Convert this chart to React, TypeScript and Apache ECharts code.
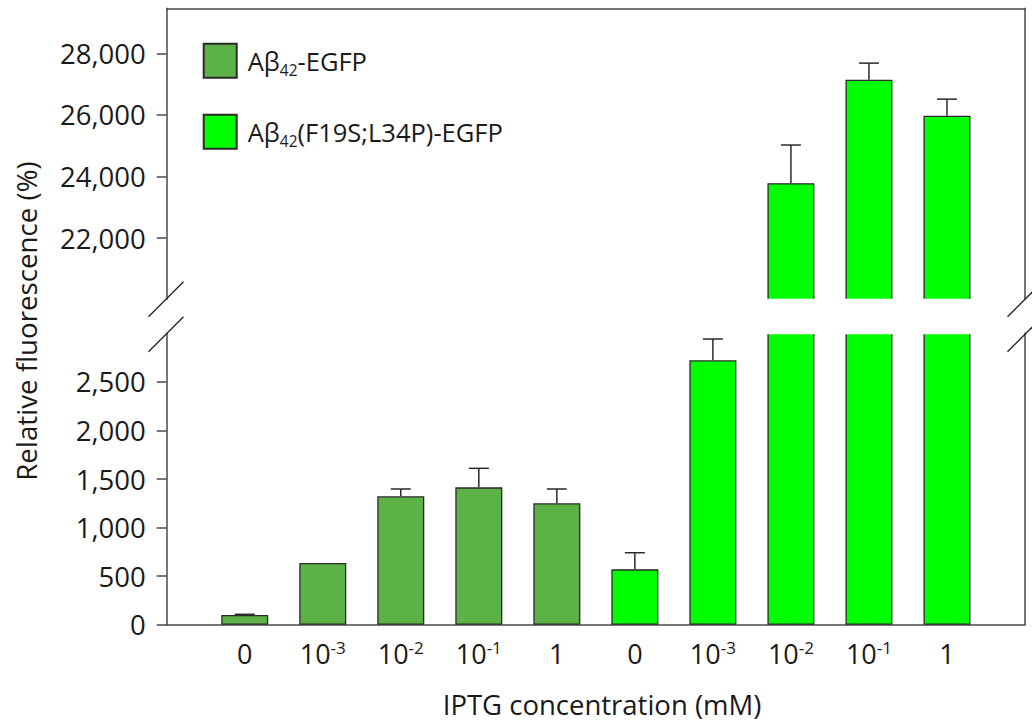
import React, { useEffect, useRef } from 'react';
import * as echarts from 'echarts';

// ---- data ----
const slots = ['', '0', '10^-3', '10^-2', '10^-1', '1', '0', '10^-3', '10^-2', '10^-1', '1', ''];
const wildName = 'Aβ42-EGFP';
const mutName = 'Aβ42(F19S;L34P)-EGFP';
const wildSlots = [1, 2, 3, 4, 5];
const wildValues = [100, 635, 1322, 1414, 1250];
const wildErrors = [7, 0, 75, 196, 147];
const mutSlots = [6, 7, 8, 9, 10];
const mutValues = [570, 2722, 23780, 27140, 25970];
const mutErrors = [171, 219, 1240, 540, 540];
const lowerTicks = [0, 500, 1000, 1500, 2000, 2500];
const upperTicks = [22000, 24000, 26000, 28000];
const lowerRange = [0, 3000];
const upperRange = [20000, 29460];

// ---- layout / style ----
const W = 1032;
const H = 724;
const L = 166.7;
const R = 1025;
const upTop = 8.3;
const upBottom = 299.6;
const loTop = 333.3;
const loBottom = 624.7;
const FONT = 'Open Sans';
const INK = '#1a1a1a';
const AXIS = '#4a4a4a';
const WILD_COLOR = '#5cb247';
const MUT_COLOR = '#00ff00';
const EDGE = '#2a2a2a';

const fmt = (v: number) => v.toLocaleString('en-US');

const seriesData = (slotIdx: number[], vals: number[], pred: (v: number) => boolean) =>
  slots.map((_, i) => {
    const k = slotIdx.indexOf(i);
    return k >= 0 && pred(vals[k]) ? vals[k] : '-';
  });

const errData = (pred: (v: number, e: number) => boolean) => {
  const out: number[][] = [];
  wildSlots.forEach((s, k) => {
    if (wildErrors[k] > 0 && pred(wildValues[k], wildErrors[k])) out.push([s, wildValues[k], wildErrors[k]]);
  });
  mutSlots.forEach((s, k) => {
    if (mutErrors[k] > 0 && pred(mutValues[k], mutErrors[k])) out.push([s, mutValues[k], mutErrors[k]]);
  });
  return out;
};

const renderErr = (params: any, api: any) => {
  const x = api.value(0);
  const v = api.value(1);
  const e = api.value(2);
  const p0 = api.coord([x, v]);
  const p1 = api.coord([x, v + e]);
  const style = { stroke: EDGE, lineWidth: 1.5, fill: null };
  return {
    type: 'group',
    children: [
      { type: 'line', shape: { x1: p0[0], y1: p0[1], x2: p1[0], y2: p1[1] }, style },
      { type: 'line', shape: { x1: p1[0] - 10, y1: p1[1], x2: p1[0] + 10, y2: p1[1] }, style },
    ],
  };
};

const barBase = (name: string, color: string) => ({
  type: 'bar',
  name,
  barWidth: 47,
  barGap: '-100%',
  itemStyle: { color, borderColor: EDGE, borderWidth: 1.3 },
  emphasis: { disabled: true },
});

const slash = (cx: number, cy: number) => ({
  type: 'line',
  z: 100,
  shape: { x1: cx - 17.5, y1: cy + 17.5, x2: cx + 17.5, y2: cy - 17.5 },
  style: { stroke: EDGE, lineWidth: 1.5 },
});

export default function App() {
  const ref = useRef<HTMLDivElement>(null);
  useEffect(() => {
    if (!ref.current) return;
    const chart = echarts.init(ref.current, null, { renderer: 'svg', width: W, height: H });
    const yLabel = {
      fontFamily: FONT,
      fontSize: 27.5,
      color: INK,
      margin: 21,
      formatter: (v: number) => fmt(v),
    };
    const option: any = {
      animation: false,
      backgroundColor: '#ffffff',
      grid: [
        { left: L, right: W - R, top: upTop, height: upBottom - upTop },
        { left: L, right: W - R, top: loTop, height: loBottom - loTop },
      ],
      legend: {
        data: [wildName, mutName],
        orient: 'vertical',
        left: 202.7,
        top: 42.7,
        padding: 0,
        itemWidth: 33,
        itemHeight: 34,
        itemGap: 35,
        icon: 'rect',
        selectedMode: false,
        formatter: (name: string) => name.replace('42', '{sub|42}'),
        textStyle: {
          fontFamily: FONT,
          fontSize: 25.5,
          color: INK,
          lineHeight: 34,
          padding: [0, 0, 0, 6],
          rich: {
            sub: { fontFamily: FONT, fontSize: 15.5, color: INK, verticalAlign: 'bottom', lineHeight: 10 },
          },
        },
      },
      xAxis: [
        {
          type: 'category',
          gridIndex: 0,
          data: slots,
          boundaryGap: false,
          position: 'top',
          axisLine: { show: true, lineStyle: { color: AXIS, width: 1.5 } },
          axisTick: { show: false },
          axisLabel: { show: false },
          splitLine: { show: false },
        },
        {
          type: 'category',
          gridIndex: 1,
          data: slots,
          boundaryGap: false,
          axisLine: { show: true, lineStyle: { color: AXIS, width: 1.5 } },
          axisTick: { show: false },
          splitLine: { show: false },
          axisLabel: {
            interval: 0,
            margin: 14,
            formatter: (v: string) => (v.startsWith('10^') ? `{b|10}{s|${v.slice(3)}}` : `{b|${v}}`),
            rich: {
              b: { fontFamily: FONT, fontSize: 27, color: INK, lineHeight: 30 },
              s: { fontFamily: FONT, fontSize: 17, color: INK, verticalAlign: 'top', lineHeight: 18 },
            },
          },
        },
      ],
      yAxis: [
        {
          type: 'value',
          gridIndex: 0,
          min: upperRange[0],
          max: upperRange[1],
          axisLine: { show: true, lineStyle: { color: AXIS, width: 1.5 } },
          axisTick: { show: true, length: 10, lineStyle: { color: AXIS, width: 1.5 }, customValues: upperTicks },
          axisLabel: { ...yLabel, customValues: upperTicks },
          splitLine: { show: false },
        },
        {
          type: 'value',
          gridIndex: 0,
          position: 'right',
          min: upperRange[0],
          max: upperRange[1],
          axisLine: { show: true, lineStyle: { color: AXIS, width: 1.5 } },
          axisTick: { show: false },
          axisLabel: { show: false },
          splitLine: { show: false },
        },
        {
          type: 'value',
          gridIndex: 1,
          min: lowerRange[0],
          max: lowerRange[1],
          axisLine: { show: true, lineStyle: { color: AXIS, width: 1.5 } },
          axisTick: { show: true, length: 10, lineStyle: { color: AXIS, width: 1.5 }, customValues: lowerTicks },
          axisLabel: { ...yLabel, customValues: lowerTicks },
          splitLine: { show: false },
        },
        {
          type: 'value',
          gridIndex: 1,
          position: 'right',
          min: lowerRange[0],
          max: lowerRange[1],
          axisLine: { show: true, lineStyle: { color: AXIS, width: 1.5 } },
          axisTick: { show: false },
          axisLabel: { show: false },
          splitLine: { show: false },
        },
      ],
      series: [
        {
          ...barBase(wildName, WILD_COLOR),
          xAxisIndex: 1,
          yAxisIndex: 2,
          data: seriesData(wildSlots, wildValues, () => true),
        },
        {
          ...barBase(mutName, MUT_COLOR),
          xAxisIndex: 1,
          yAxisIndex: 2,
          data: seriesData(mutSlots, mutValues, () => true),
        },
        {
          ...barBase(mutName, MUT_COLOR),
          xAxisIndex: 0,
          yAxisIndex: 0,
          data: seriesData(mutSlots, mutValues, (v) => v >= upperRange[0]),
        },
        {
          type: 'custom',
          name: 'err-lower',
          xAxisIndex: 1,
          yAxisIndex: 2,
          renderItem: renderErr,
          encode: { x: 0, y: 1 },
          data: errData((v, e) => v + e <= lowerRange[1]),
          z: 5,
        },
        {
          type: 'custom',
          name: 'err-upper',
          xAxisIndex: 0,
          yAxisIndex: 0,
          renderItem: renderErr,
          encode: { x: 0, y: 1 },
          data: errData((v) => v >= upperRange[0]),
          z: 5,
        },
      ],
      graphic: [
        {
          type: 'rect',
          z: 90,
          shape: { x: L + 1, y: upBottom - 0.8, width: R - L - 2, height: loTop - upBottom + 1.8 },
          style: { fill: '#ffffff' },
        },
        slash(L - 0.7, upBottom - 0.4),
        slash(L - 0.7, loTop + 0.9),
        slash(R, upBottom - 0.4),
        slash(R, loTop + 0.9),
        {
          type: 'text',
          z: 100,
          x: 26,
          y: 321,
          rotation: Math.PI / 2,
          style: {
            text: 'Relative fluorescence (%)',
            fontFamily: FONT,
            fontSize: 27.7,
            lineHeight: 28,
            fill: INK,
            align: 'center',
            verticalAlign: 'middle',
          },
        },
        {
          type: 'text',
          z: 100,
          x: 602,
          y: 704,
          style: {
            text: 'IPTG concentration (mM)',
            fontFamily: FONT,
            fontSize: 27.5,
            lineHeight: 28,
            fill: INK,
            align: 'center',
            verticalAlign: 'middle',
          },
        },
      ],
    };
    chart.setOption(option);
    return () => chart.dispose();
  }, []);
  return (
    <div
      ref={ref}
      style={{ position: 'fixed', left: 0, top: 0, width: W, height: H, background: '#fff' }}
    />
  );
}
